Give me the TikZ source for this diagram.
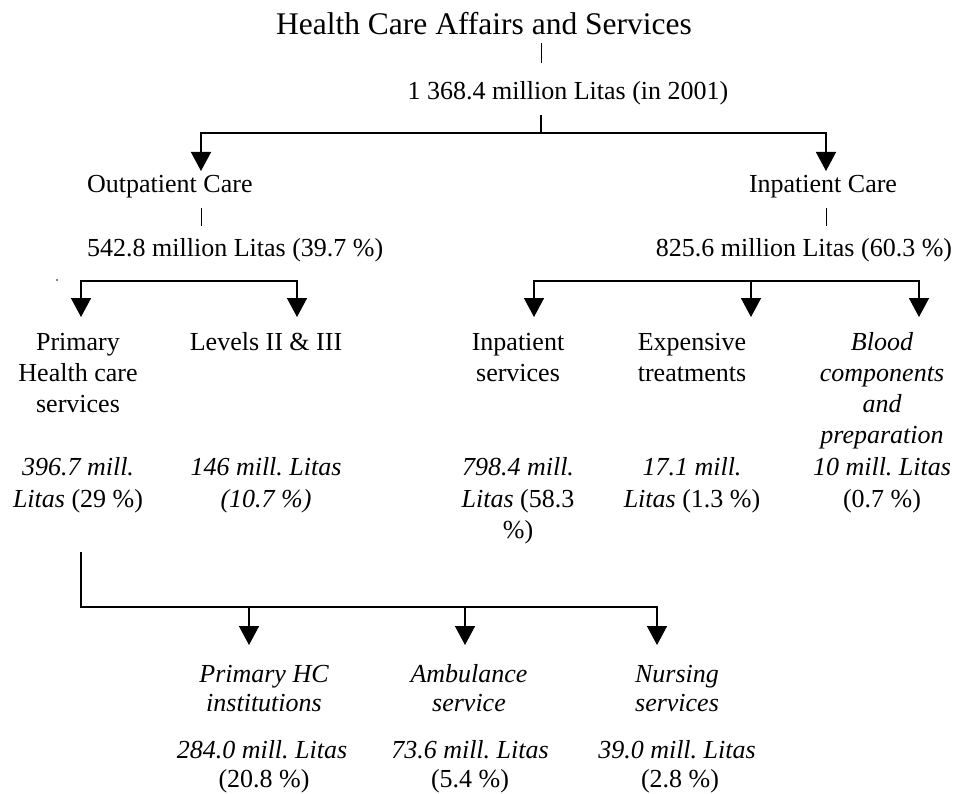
\documentclass[tikz,border=0pt]{standalone}
\usepackage{fontspec}
\setmainfont{Liberation Serif}
\usetikzlibrary{arrows.meta}
\frenchspacing
\begin{document}
\begin{tikzpicture}[x=1pt,y=-1pt,
  txt/.style={inner sep=0pt, anchor=base, font=\fontsize{26}{31}\selectfont},
  txtw/.style={inner sep=0pt, anchor=base west, font=\fontsize{26}{31}\selectfont},
  ttl/.style={inner sep=0pt, anchor=base, font=\fontsize{31.5}{36}\selectfont},
  tick/.style={line width=1pt},
  ln/.style={line width=1.5pt},
  arr/.style={line width=1.5pt, -{Triangle[width=20pt,length=19pt]}},
  arrboth/.style={line width=1.5pt, {Triangle[width=20pt,length=19pt]}-{Triangle[width=20pt,length=19pt]}}]
\useasboundingbox (0,0) rectangle (958,794);

% top
\node[ttl] (title) at (484,35) {Health Care Affairs and Services};
\node[txt] (total) at (568,100) {1 368.4 million Litas (in 2001)};
\coordinate (t1) at (541,43); \coordinate (t2) at (541,63);
\draw[tick] (t1) -- (t2);
\coordinate (s0) at (541,115); \coordinate (j0) at (541,133);
\coordinate (tipO) at (201,171); \coordinate (tipI) at (826,171);
\draw[ln] (s0) -- (j0);
\draw[arrboth] (tipO) |- (j0) -| (tipI);

% level 1
\node[txtw] (outp) at (87,193) {Outpatient Care};
\node[txtw] (outpamt) at (87,257) {542.8 million Litas (39.7 \%)};
\coordinate (o1) at (201,208); \coordinate (o2) at (201,226);
\draw[tick] (o1) -- (o2);
\node[txt] (inp) at (823,193) {Inpatient Care};
\node[txt] (inpamt) at (804,257) {825.6 million Litas (60.3 \%)};
\coordinate (i1) at (826,208); \coordinate (i2) at (826,226);
\draw[tick] (i1) -- (i2);

\fill (57,280) circle (0.9);

% level 2 arrows
\coordinate (tipP) at (81,317); \coordinate (tipL) at (297,317); \coordinate (jL) at (189,281);
\draw[arrboth] (tipP) |- (jL) -| (tipL);
\coordinate (tipIS) at (534,317); \coordinate (tipE) at (751,317); \coordinate (tipB) at (919,317);
\coordinate (jR) at (700,281); \coordinate (jE) at (751,281);
\draw[arrboth] (tipIS) |- (jR) -| (tipB);
\draw[arr] (jE) -- (tipE);

% level 2 texts
\node[txt] (p1) at (78,350) {Primary};
\node[txt] (p2) at (78,381) {Health care};
\node[txt] (p3) at (78,412) {services};
\node[txt] (p4) at (78,475) {\itshape 396.7 mill.};
\node[txt] (p5) at (78,507) {\textit{Litas} (29 \%)};

\node[txt] (l1) at (266,350) {Levels II \& III};
\node[txt] (l2) at (266,475) {\itshape 146 mill. Litas};
\node[txt] (l3) at (266,507) {\itshape (10.7 \%)};

\node[txt] (is1) at (518,350) {Inpatient};
\node[txt] (is2) at (518,381) {services};
\node[txt] (is3) at (518,475) {\itshape 798.4 mill.};
\node[txt] (is4) at (518,507) {\textit{Litas} (58.3};
\node[txt] (is5) at (518,538) {\%)};

\node[txt] (e1) at (692,350) {Expensive};
\node[txt] (e2) at (692,381) {treatments};
\node[txt] (e3) at (692,475) {\itshape 17.1 mill.};
\node[txt] (e4) at (692,507) {\textit{Litas} (1.3 \%)};

\node[txt] (b1) at (882,350) {\itshape Blood};
\node[txt] (b2) at (882,381) {\itshape components};
\node[txt] (b3) at (882,412) {\itshape and};
\node[txt] (b4) at (882,443) {\itshape preparation};
\node[txt] (b5) at (882,475) {\itshape 10 mill. Litas};
\node[txt] (b6) at (882,507) {(0.7 \%)};

% bottom branch
\coordinate (sb) at (81,552); \coordinate (jb) at (400,607);
\coordinate (tipA) at (249,645); \coordinate (tipAm) at (465,645); \coordinate (tipN) at (657,645);
\coordinate (jA) at (249,607); \coordinate (jAm) at (465,607);
\draw[arr] (sb) |- (jb) -| (tipN);
\draw[arr] (jA) -- (tipA);
\draw[arr] (jAm) -- (tipAm);

\node[txt] (a1) at (264,682) {\itshape Primary HC};
\node[txt] (a2) at (264,711) {\itshape institutions};
\node[txt] (a3) at (262,758) {\itshape 284.0 mill. Litas};
\node[txt] (a4) at (264,787) {(20.8 \%)};

\node[txt] (m1) at (469,682) {\itshape Ambulance};
\node[txt] (m2) at (469,711) {\itshape service};
\node[txt] (m3) at (470,758) {\itshape 73.6 mill. Litas};
\node[txt] (m4) at (470,787) {(5.4 \%)};

\node[txt] (n1) at (677,682) {\itshape Nursing};
\node[txt] (n2) at (677,711) {\itshape services};
\node[txt] (n3) at (677,758) {\itshape 39.0 mill. Litas};
\node[txt] (n4) at (680,787) {(2.8 \%)};
\end{tikzpicture}
\end{document}
